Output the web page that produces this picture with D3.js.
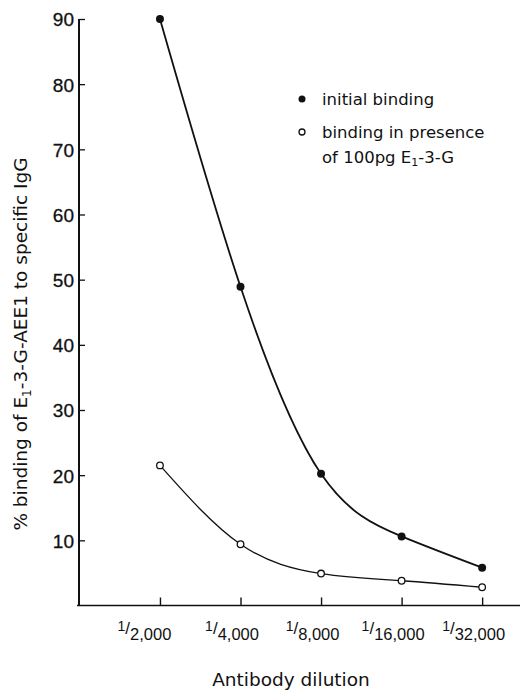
<!DOCTYPE html>
<html><head><meta charset="utf-8">
<script src="https://cdn.jsdelivr.net/npm/d3@7"></script>
<style>
html,body{margin:0;padding:0;background:#fff;}
svg{display:block;font-family:"DejaVu Sans",sans-serif;}
</style></head>
<body><svg id="c" width="529" height="691"></svg>
<script>
const dilutionDenoms = ["2,000","4,000","8,000","16,000","32,000"];
const initialBinding = [90, 48.9, 20.2, 10.6, 5.8];
const presenceBinding = [21.5, 9.4, 4.9, 3.8, 2.8];
const yTicks = [10,20,30,40,50,60,70,80,90];
const legendLabels = ["initial binding", "binding in presence", "of 100pg E"];

const svg = d3.select("#c");
const x = d3.scaleLinear().domain([-1.03, 4.47]).range([77, 520]);
const y = d3.scaleLinear().domain([0, 90]).range([605.5, 19]);
const ink = "#111";

// y axis
const yAxis = d3.axisRight(y).tickValues(yTicks).tickSize(6).tickFormat(d3.format("d"));
const gy = svg.append("g").attr("transform", `translate(${x(-1.03)+2},0)`).call(yAxis);
gy.select(".domain").remove();
gy.selectAll(".tick line").attr("stroke", ink).attr("stroke-width", 1.3);
gy.selectAll(".tick text").attr("x", -5).attr("text-anchor", "end").attr("dy", "0.36em")
  .attr("font-size", 19).attr("fill", ink).attr("stroke", ink).attr("stroke-width", 0.3);
svg.append("line").attr("x1", x(-1.03)+2).attr("x2", x(-1.03)+2).attr("y1", y(90)).attr("y2", y(0))
  .attr("stroke", ink).attr("stroke-width", 2);

// x axis
svg.append("line").attr("x1", x(-1.03)).attr("x2", x(4.47)).attr("y1", y(0)).attr("y2", y(0))
  .attr("stroke", ink).attr("stroke-width", 1.5);
const xAxis = d3.axisTop(x).tickValues(d3.range(dilutionDenoms.length)).tickSize(8).tickFormat(() => "");
const gx = svg.append("g").attr("transform", `translate(0,${y(0)})`).call(xAxis);
gx.select(".domain").remove();
gx.selectAll(".tick line").attr("stroke", ink).attr("stroke-width", 1.4);
gx.selectAll(".tick").each(function(d, i) {
  const t = d3.select(this).append("text").attr("text-anchor", "middle").attr("x", i === 0 ? -16 : -9).attr("y", 34)
    .attr("fill", ink).attr("font-size", 16.5);
  t.append("tspan").attr("dy", -9).attr("font-size", 14).text("1");
  t.append("tspan").attr("dy", 3).attr("font-size", 17).text("/");
  t.append("tspan").attr("dy", 6).text(dilutionDenoms[i]);
});

// axis titles
svg.append("text").attr("x", 291).attr("y", 686).attr("text-anchor", "middle")
  .attr("font-size", 18.5).attr("fill", ink).text("Antibody dilution");
const yl = svg.append("text").attr("transform", "translate(27,344) rotate(-90)")
  .attr("text-anchor", "middle").attr("font-size", 18.5).attr("fill", ink);
yl.append("tspan").text("% binding of E");
yl.append("tspan").attr("font-size", 12).attr("dy", 4).text("1");
yl.append("tspan").attr("dy", -4).text("-3-G-AEE1 to specific IgG");

// curves
const line = d3.line().x((d, i) => x(i)).y(d => y(d)).curve(d3.curveNatural);
svg.append("path").attr("d", line(initialBinding)).attr("fill", "none").attr("stroke", ink).attr("stroke-width", 1.8);
svg.append("path").attr("d", line(presenceBinding)).attr("fill", "none").attr("stroke", ink).attr("stroke-width", 1.3);

svg.selectAll(".pf").data(initialBinding).join("circle").attr("class", "pf")
  .attr("cx", (d, i) => x(i)).attr("cy", d => y(d)).attr("r", 4).attr("fill", ink);
svg.selectAll(".po").data(presenceBinding).join("circle").attr("class", "po")
  .attr("cx", (d, i) => x(i)).attr("cy", d => y(d)).attr("r", 3.3).attr("fill", "#fff")
  .attr("stroke", ink).attr("stroke-width", 1.3);

// legend
svg.append("circle").attr("cx", 302).attr("cy", 99).attr("r", 3.5).attr("fill", ink);
svg.append("circle").attr("cx", 302).attr("cy", 132).attr("r", 3).attr("fill", "#fff").attr("stroke", ink).attr("stroke-width", 1.3);
svg.append("text").attr("x", 322).attr("y", 105).attr("font-size", 16.5).attr("fill", ink).text(legendLabels[0]);
svg.append("text").attr("x", 322).attr("y", 138).attr("font-size", 16.5).attr("fill", ink).text(legendLabels[1]);
const l3 = svg.append("text").attr("x", 322).attr("y", 163).attr("font-size", 16.5).attr("fill", ink);
l3.append("tspan").text(legendLabels[2]);
l3.append("tspan").attr("font-size", 11).attr("dy", 3).text("1");
l3.append("tspan").attr("dy", -3).text("-3-G");
</script></body></html>
